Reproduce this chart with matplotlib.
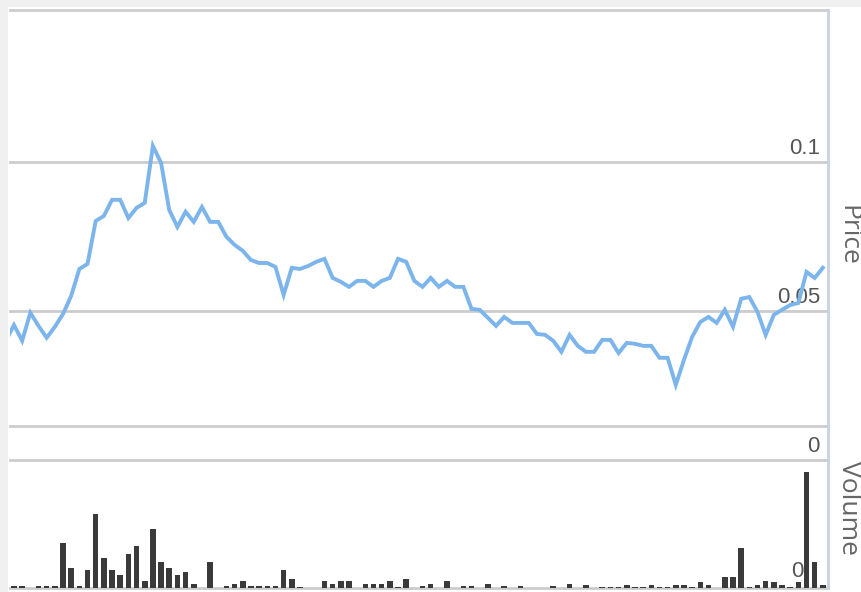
import numpy as np
import matplotlib.pyplot as plt
from matplotlib.patches import Rectangle
import matplotlib.transforms as mtransforms

# цены закрытия (первая точка уходит за левый край)
price = [0.0400, 0.0453, 0.0400, 0.0494, 0.0450, 0.0410, 0.0447, 0.0490, 0.0551, 0.0641,
         0.0658, 0.0802, 0.0819, 0.0873, 0.0873, 0.0812, 0.0846, 0.0863, 0.1054, 0.0997,
         0.0839, 0.0782, 0.0833, 0.0799, 0.0849, 0.0799, 0.0799, 0.0749, 0.0722, 0.0702,
         0.0671, 0.0661, 0.0661, 0.0648, 0.0554, 0.0645, 0.0641, 0.0651, 0.0665, 0.0675,
         0.0611, 0.0598, 0.0581, 0.0601, 0.0601, 0.0581, 0.0601, 0.0611, 0.0675, 0.0665,
         0.0601, 0.0581, 0.0611, 0.0581, 0.0601, 0.0581, 0.0581, 0.0507, 0.0504, 0.0477,
         0.0450, 0.0480, 0.0460, 0.0460, 0.0460, 0.0423, 0.0420, 0.0400, 0.0363, 0.0420,
         0.0383, 0.0363, 0.0363, 0.0403, 0.0403, 0.0359, 0.0393, 0.0390, 0.0383, 0.0383,
         0.0343, 0.0343, 0.0252, 0.0336, 0.0413, 0.0463, 0.0480, 0.0460, 0.0504, 0.0447,
         0.0541, 0.0547, 0.0497, 0.0420, 0.0487, 0.0504, 0.0520, 0.0527, 0.0631, 0.0611,
         0.0645]
price_idx = np.arange(len(price)) - 1

# объём торгов (условные единицы)
volume = [2, 2, 0, 2, 2, 2, 45, 20, 2, 18,
          74, 30, 18, 13, 34, 42, 7, 59, 26, 20,
          13, 16, 4, 0, 26, 0, 2, 4, 7, 2,
          2, 2, 2, 18, 9, 1, 0, 0, 7, 4,
          7, 7, 0, 4, 4, 4, 7, 1, 9, 0,
          2, 4, 0, 7, 0, 2, 2, 0, 4, 0,
          2, 0, 2, 0, 0, 0, 2, 0, 4, 0,
          3, 0, 1, 1, 1, 3, 1, 1, 3, 1,
          1, 3, 3, 1, 6, 3, 0, 11, 11, 40,
          1, 3, 7, 6, 3, 1, 6, 116, 26, 3]
vol_idx = np.arange(len(volume))

price_ticks = [0, 0.05, 0.1]
price_labels = ['0', '0.05', '0.1']

W, H = 861, 592
fig = plt.figure(figsize=(W / 100, H / 100), dpi=100)
fig.patch.set_facecolor('white')

# серые полосы сверху и слева
fig.add_artist(Rectangle((0, 1 - 7 / H), 1, 7 / H, transform=fig.transFigure,
                         facecolor='#f0f0f0', edgecolor='none', zorder=0))
fig.add_artist(Rectangle((0, 0), 8 / W, 1, transform=fig.transFigure,
                         facecolor='#f0f0f0', edgecolor='none', zorder=0))

left = 10 / W
width = 818 / W
xlim = (-0.49, 99.63)

grid_col = '#cccccc'
label_col = '#555555'

# панель объёма
axv = fig.add_axes([left, 1 - 588 / H, width, (588 - 426) / H])
axv.set_facecolor('none')
axv.bar(vol_idx, volume, width=0.68, color='#3a3a3a', zorder=3)
axv.set_xlim(*xlim)
axv.set_ylim(0, max(volume) * 162 / 116)
for s in ['left', 'right', 'bottom']:
    axv.spines[s].set_visible(False)
axv.spines['top'].set_color(grid_col)
axv.spines['top'].set_linewidth(2)
axv.axhline(0, color=grid_col, lw=2, zorder=2, clip_on=False)
axv.set_xticks([])
axv.set_yticks([])
tv = mtransforms.offset_copy(axv.get_yaxis_transform(), fig=fig, x=-25, y=6, units='dots')
axv.text(1, 0, '0', transform=tv, ha='right', va='bottom', fontsize=16,
         color=label_col, family='Liberation Sans', zorder=1)

# панель цены
axp = fig.add_axes([left, 1 - 460 / H, width, 450 / H])
axp.set_facecolor('none')
axp.plot(price_idx, price, color='#7cb5ec', lw=2.8, zorder=3, solid_joinstyle='miter')
axp.set_xlim(*xlim)
axp.set_ylim(0, 0.151)
for s in ['left', 'right', 'bottom']:
    axp.spines[s].set_visible(False)
axp.spines['top'].set_color(grid_col)
axp.spines['top'].set_linewidth(2)
axp.set_xticks([])
axp.set_yticks([])
tp = mtransforms.offset_copy(axp.get_yaxis_transform(), fig=fig, x=-8, y=3, units='dots')
for v, lab in zip(price_ticks, price_labels):
    axp.axhline(v, color=grid_col, lw=2, zorder=1, clip_on=False)
    axp.text(1, v, lab, transform=tp, ha='right', va='bottom', fontsize=16,
             color=label_col, family='Liberation Sans', zorder=2)

# правая граница
fig.add_artist(plt.Line2D([828 / W, 828 / W], [1 - 588 / H, 1 - 10 / H],
                          transform=fig.transFigure, color='#c5d3e3', lw=2))

# подписи осей справа
fig.text(848 / W, 1 - 235 / H, 'Price', rotation=270, ha='center', va='center',
         fontsize=19, color='#666666', family='Open Sans')
fig.text(848 / W, 1 - 508 / H, 'Volume', rotation=270, ha='center', va='center',
         fontsize=19, color='#666666', family='Open Sans')

fig.savefig('out.png', dpi=100)
